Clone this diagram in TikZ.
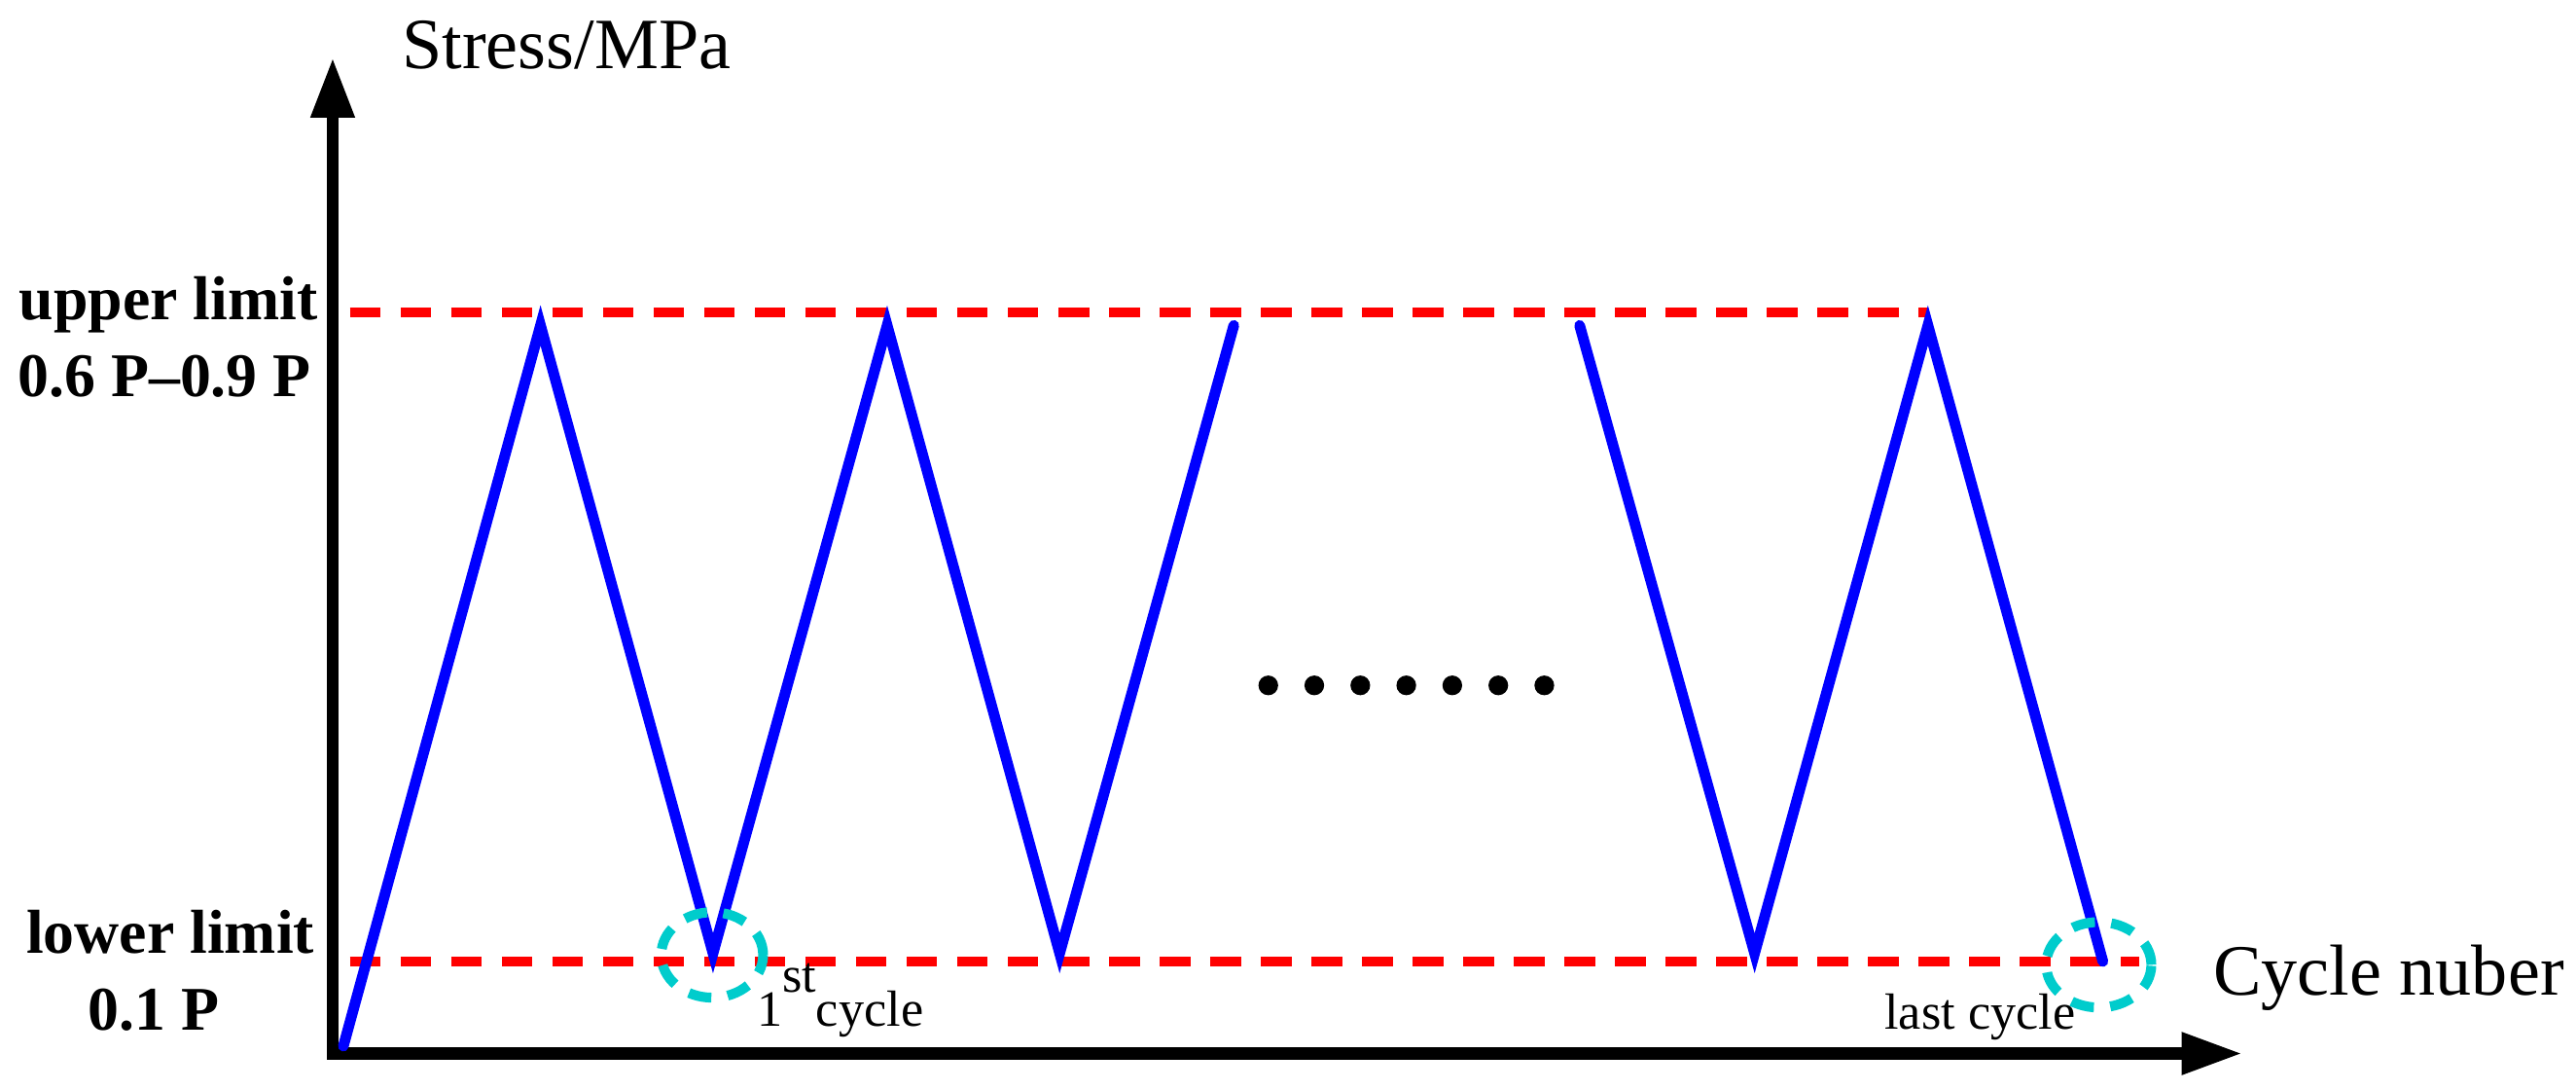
\documentclass[tikz,border=0pt]{standalone}
\usepackage{fontspec}
\setmainfont{Liberation Serif}
\usetikzlibrary{arrows.meta, positioning}
\definecolor{loadblue}{RGB}{0,0,255}
\definecolor{limitred}{RGB}{255,0,0}
\definecolor{ringcyan}{RGB}{0,204,204}

\begin{document}
\begin{tikzpicture}[
    axisline/.style={line width=0.074cm, line join=miter, {Triangle[length=3.65mm, width=2.5mm]}-{Triangle[length=3.7mm, width=2.4mm]}},
    limitline/.style={limitred, line width=0.063cm, dash pattern=on 1.87mm off 1.21mm},
    loadline/.style={loadblue, line width=0.065cm, line cap=round, line join=miter},
    ringline/.style={ringcyan, line width=0.06cm, dash pattern=on 1.4mm off 1mm},
    bigtext/.style={inner sep=0pt, font=\fontsize{12.5}{15}\selectfont},
    limittext/.style={inner sep=0pt, font=\fontsize{10.75}{13}\selectfont\bfseries},
    smalltext/.style={inner sep=0pt, font=\fontsize{8.8}{10}\selectfont}
]
    \useasboundingbox (0,0) rectangle (15.68,6.63);

    % axes
    \coordinate (ytip) at (2.025,6.28);
    \coordinate (xtip) at (13.65,0.22);
    \draw[axisline] (ytip) |- (xtip);
    \node[bigtext, anchor=base west] (ylabel) at (2.44,6.215) {Stress/MPa};
    \node[bigtext, anchor=base west] (xlabel) at (13.465,0.573) {Cycle nuber};

    % limits
    \draw[limitline] (2.13,4.73) -- (11.73,4.73);
    \draw[limitline] (2.13,0.78) -- (13.02,0.78);
    \node[limittext, anchor=base east] (upper) at (1.94,4.686) {upper limit};
    \node[limittext, anchor=base east] (upperval) at (1.90,4.22) {0.6 P--0.9 P};
    \node[limittext, anchor=base east] (lower) at (1.92,0.83) {lower limit};
    \node[limittext, anchor=base west] (lowerval) at (0.53,0.364) {0.1 P};

    % loading cycles
    \draw[loadline] (2.09,0.265) -- (3.29,4.65) -- (4.34,0.83) -- (5.40,4.65) -- (6.45,0.83) -- (7.51,4.65);
    \draw[loadline] (9.615,4.65) -- (10.68,0.83) -- (11.735,4.65) -- (12.80,0.78);
    \foreach \i in {0,...,6}
        \fill (7.72+0.28*\i,2.46) circle (0.06);

    % first and last cycle
    \draw[ringline] (4.335,0.82) ellipse (0.31 and 0.26);
    \draw[ringline] (12.775,0.76) ellipse (0.32 and 0.26);
    \node[smalltext, anchor=base west] (first) at (4.60,0.384) {1\raisebox{0.67em}{st}cycle};
    \node[smalltext, anchor=base west] (last) at (11.465,0.366) {last cycle};
\end{tikzpicture}
\end{document}
